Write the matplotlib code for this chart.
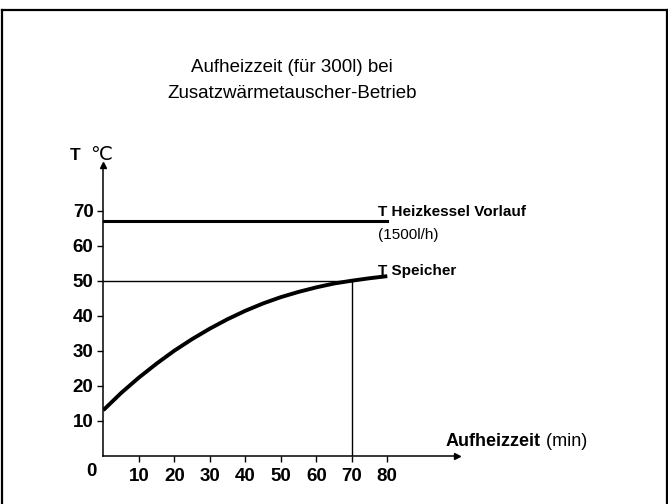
import matplotlib.pyplot as plt
from matplotlib.lines import Line2D

plt.rcParams['font.family'] = ['Liberation Sans', 'DejaVu Sans']

# readings from the chart
minutes = [0, 5, 10, 15, 20, 25, 30, 35, 40, 45, 50, 55, 60, 65, 70, 75, 80]
t_speicher = [13, 17.9, 22.3, 26.3, 30.0, 33.3, 36.3, 39.0, 41.4, 43.5, 45.3,
              46.8, 48.1, 49.2, 50.0, 50.7, 51.3]
t_vorlauf = 67
t_target = 50
t_reached = 70
x_ticks = [10, 20, 30, 40, 50, 60, 70, 80]
y_ticks = [10, 20, 30, 40, 50, 60, 70]

W, H = 668, 504
fig = plt.figure(figsize=(W / 100, H / 100), dpi=100)

# frame round the picture
fx = lambda px: px / W
fy = lambda py: 1 - py / H
fig.add_artist(Line2D([fx(2), fx(2)], [fy(10), fy(504)], color='k', lw=1.6))
fig.add_artist(Line2D([fx(2), fx(668)], [fy(10), fy(10)], color='k', lw=1.6))
fig.add_artist(Line2D([fx(666.5), fx(666.5)], [fy(10), fy(504)], color='k', lw=1.6))

fig.text(fx(292), fy(68), 'Aufheizzeit (für 300l) bei', ha='center', va='center', fontsize=13.5)
fig.text(fx(292), fy(94), 'Zusatzwärmetauscher-Betrieb', ha='center', va='center', fontsize=13.5)

x0, x1 = 103.3, 457
y0, y1 = 455.7, 165
ax = fig.add_axes([fx(x0), fy(y0), (x1 - x0) / W, (y0 - y1) / H])
ax.set_xlim(0, (x1 - x0) / 3.55)
ax.set_ylim(0, (y0 - y1) / 3.5)
for s in ['top', 'right']:
    ax.spines[s].set_visible(False)
for s in ['left', 'bottom']:
    ax.spines[s].set_linewidth(1.1)
ax.plot(1, 0, '>k', ms=5, transform=ax.get_yaxis_transform(), clip_on=False)
ax.plot(0, 1, '^k', ms=5, transform=ax.get_xaxis_transform(), clip_on=False)

ax.set_xticks(x_ticks)
ax.set_yticks(y_ticks)
ax.tick_params(direction='out', length=4, width=1, labelsize=13.5, pad=3)
ax.tick_params(axis='x', pad=5)
for lab in ax.get_xticklabels() + ax.get_yticklabels():
    lab.set_fontweight('bold')
ax.text(-1.8, -2.0, '0', ha='right', va='top', fontsize=13.5, fontweight='bold')

ax.plot([0, 80], [t_vorlauf, t_vorlauf], color='k', lw=2.2)
ax.plot([0, t_reached], [t_target, t_target], color='k', lw=1)
ax.plot([t_reached, t_reached], [0, t_target], color='k', lw=1)
ax.plot(minutes, t_speicher, color='k', lw=2.8, solid_capstyle='butt')

ax.text(77.5, 68.5, 'T Heizkessel Vorlauf', fontsize=11, fontweight='bold', va='baseline')
ax.text(77.5, 61.8, '(1500l/h)', fontsize=11, va='baseline')
ax.text(77.5, 51.7, 'T Speicher', fontsize=11, fontweight='bold', va='baseline')
t = ax.text(96.5, 1.6, 'Aufheizzeit', fontsize=13, fontweight='bold', va='bottom')
ax.annotate(' (min)', xy=(1, 0), xycoords=t, fontsize=13, va='bottom', ha='left')

fig.text(fx(70), fy(156), 'T', fontsize=12.5, fontweight='bold', va='center')
fig.text(fx(90), fy(156), '℃', fontsize=14, va='center')

fig.savefig('out.png', dpi=100)
